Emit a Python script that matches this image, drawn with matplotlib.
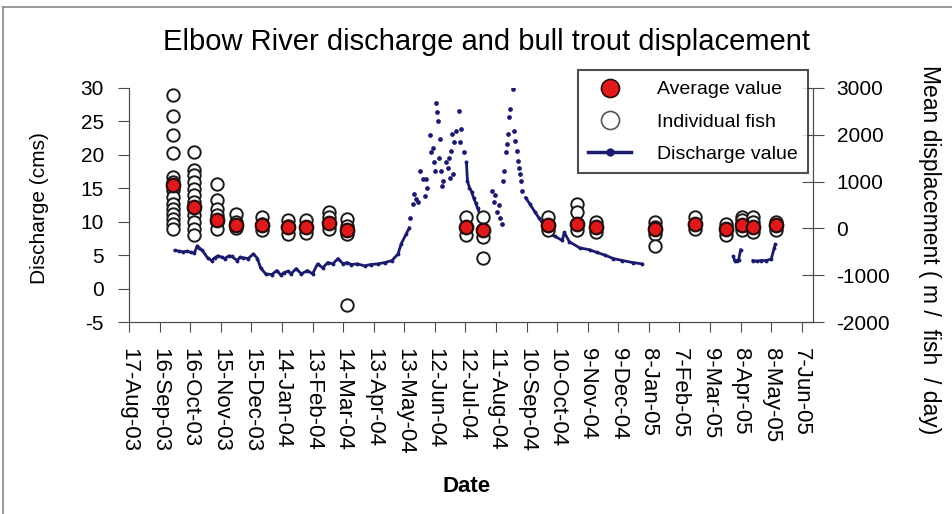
import matplotlib
matplotlib.use('Agg')
import matplotlib.pyplot as plt
from matplotlib.lines import Line2D
import pandas as pd

plt.rcParams['font.family'] = ['Liberation Sans', 'DejaVu Sans']
plt.rcParams['axes.unicode_minus'] = False

# sampling trips: mean and individual displacement (m / fish / day)
survey_dates = ['2003-09-29', '2003-10-20', '2003-11-11', '2003-11-30', '2003-12-25',
                '2004-01-20', '2004-02-07', '2004-02-29', '2004-03-18', '2004-07-13',
                '2004-07-29', '2004-10-01', '2004-10-29', '2004-11-17', '2005-01-14',
                '2005-02-22', '2005-03-25', '2005-04-09', '2005-04-20', '2005-05-13']
avg_disp = [919, 456, 171, 64, 64, 28, 20, 114, -28, 28,
            -43, 64, 85, 28, -6, 100, -6, 64, 28, 64]
fish_disp = [
    [2842, 2400, 1987, 1617, 1097, 990, 812, 669, 527, 420, 314, 207, 100, -6],
    [1630, 1239, 1132, 990, 848, 705, 562, 420, 278, 135, -6, -150],
    [954, 598, 420, 278, 135, -6],
    [314, 135, 0],
    [242, 100, -40],
    [171, 50, -114],
    [171, 30, -100],
    [349, 242, 100, -6],
    [207, 60, -114, -1645],
    [242, 28, -150],
    [242, -43, -185, -627],
    [242, 64, -43],
    [527, 349, 85, -43],
    [135, 28, -79],
    [135, 28, -120, -380],
    [242, 100, -6],
    [100, -6, -150],
    [242, 171, 64, -43],
    [242, 135, 28, -79],
    [135, 64, -43],
]

# discharge (cms), continuous stretches of daily record
q_fall03_dates = ['2003-10-01', '2003-10-05', '2003-10-09', '2003-10-13', '2003-10-17',
                  '2003-10-20', '2003-10-23', '2003-10-25', '2003-10-28', '2003-11-02',
                  '2003-11-06', '2003-11-09', '2003-11-12', '2003-11-16', '2003-11-19',
                  '2003-11-23', '2003-11-26', '2003-12-01', '2003-12-04', '2003-12-07',
                  '2003-12-12', '2003-12-17', '2003-12-21', '2003-12-24', '2003-12-29',
                  '2004-01-04', '2004-01-09', '2004-01-13', '2004-01-16', '2004-01-20',
                  '2004-01-23', '2004-01-28', '2004-02-02', '2004-02-08', '2004-02-13',
                  '2004-02-18', '2004-02-23', '2004-02-28', '2004-03-04', '2004-03-09',
                  '2004-03-14', '2004-03-18', '2004-03-22', '2004-03-28', '2004-04-04',
                  '2004-04-10', '2004-04-17', '2004-04-24', '2004-05-01', '2004-05-07',
                  '2004-05-10', '2004-05-15', '2004-05-18']
q_fall03_cms = [5.7, 5.6, 5.5, 5.6, 5.4, 5.3, 6.4, 6.0, 5.7, 4.6,
                4.2, 4.6, 4.9, 4.7, 4.5, 4.9, 4.8, 4.2, 4.7, 4.6,
                4.5, 5.2, 4.5, 3.1, 2.2, 2.1, 2.7, 2.0, 2.4, 2.6,
                2.2, 3.0, 2.2, 2.7, 2.2, 3.7, 3.1, 3.9, 3.7, 4.5,
                3.7, 3.9, 3.6, 3.7, 3.4, 3.6, 3.7, 3.9, 4.2, 5.2,
                6.7, 8.2, 9.1]

q_jul04_dates = ['2004-07-13', '2004-07-14', '2004-07-16', '2004-07-18', '2004-07-20',
                 '2004-07-22', '2004-07-24', '2004-07-26']
q_jul04_cms = [18.9, 16.1, 15.1, 14.5, 13.6, 12.8, 12.0, 11.2]

q_fall04_dates = ['2004-09-09', '2004-09-13', '2004-09-18', '2004-09-22', '2004-09-27',
                  '2004-10-02', '2004-10-08', '2004-10-15', '2004-10-17', '2004-10-22',
                  '2004-11-01', '2004-11-11', '2004-11-18', '2004-11-26', '2004-12-04',
                  '2004-12-13', '2004-12-23', '2005-01-01']
q_fall04_cms = [13.6, 12.7, 11.5, 10.6, 9.5, 8.2, 7.8, 7.2, 8.4, 7.0,
                6.1, 5.8, 5.4, 5.0, 4.5, 4.2, 3.9, 3.7]

q_apr05_dates = ['2005-04-01', '2005-04-02', '2005-04-04', '2005-04-06', '2005-04-08']
q_apr05_cms = [4.8, 4.2, 4.2, 4.3, 5.8]

q_may05_dates = ['2005-04-20', '2005-04-24', '2005-04-28', '2005-05-03', '2005-05-08',
                 '2005-05-11', '2005-05-12']
q_may05_cms = [4.2, 4.1, 4.2, 4.2, 4.4, 6.1, 6.6]

# scattered days during the freshet
q_peak_dates = ['2004-05-19', '2004-05-22', '2004-05-23', '2004-05-25', '2004-05-26',
                '2004-05-28', '2004-05-31', '2004-06-02', '2004-06-03', '2004-06-04',
                '2004-06-07', '2004-06-08', '2004-06-10', '2004-06-11', '2004-06-12',
                '2004-06-13', '2004-06-14', '2004-06-15', '2004-06-16', '2004-06-17',
                '2004-06-18', '2004-06-19', '2004-06-20', '2004-06-23', '2004-06-25',
                '2004-06-26', '2004-06-27', '2004-06-28', '2004-06-29', '2004-06-30',
                '2004-07-01', '2004-07-03', '2004-07-06', '2004-07-07', '2004-07-08',
                '2004-07-11',
                '2004-08-07', '2004-08-09', '2004-08-10', '2004-08-12', '2004-08-14',
                '2004-08-15', '2004-08-17', '2004-08-18', '2004-08-19', '2004-08-21',
                '2004-08-22', '2004-08-23', '2004-08-24', '2004-08-25', '2004-08-28',
                '2004-08-29', '2004-08-30', '2004-09-01', '2004-09-02', '2004-09-03',
                '2004-09-04', '2004-09-05', '2004-09-06']
q_peak_cms = [10.6, 12.7, 14.2, 13.4, 12.9, 17.6, 16.4, 13.9, 16.4, 15.1,
              22.9, 20.4, 21.1, 18.9, 17.6, 27.8, 26.4, 25.1, 19.6, 22.4,
              17.6, 15.4, 16.1, 18.9, 18.1, 19.6, 16.6, 20.6, 23.1, 17.1,
              21.9, 23.6, 26.6, 21.9, 23.9, 20.4,
              14.6, 13.0, 14.0, 11.5, 12.5, 10.5, 9.7, 16.1, 17.6, 20.4,
              21.6, 23.1, 25.6, 26.9, 29.9, 23.6, 22.1, 20.6, 19.1, 18.1,
              17.1, 16.1, 14.6]

tick_labels = ['17-Aug-03', '16-Sep-03', '16-Oct-03', '15-Nov-03', '15-Dec-03',
               '14-Jan-04', '13-Feb-04', '14-Mar-04', '13-Apr-04', '13-May-04',
               '12-Jun-04', '12-Jul-04', '11-Aug-04', '10-Sep-04', '10-Oct-04',
               '9-Nov-04', '9-Dec-04', '8-Jan-05', '7-Feb-05', '9-Mar-05',
               '8-Apr-05', '8-May-05', '7-Jun-05']

navy = '#1b1b6e'
axis_grey = '#4a4a4a'

fig = plt.figure(figsize=(9.53, 5.14), dpi=100)
ax = fig.add_axes([0.1354, 0.3735, 0.7177, 0.4553])
ax2 = ax.twinx()

for d, q in [(q_fall03_dates, q_fall03_cms), (q_jul04_dates, q_jul04_cms),
             (q_fall04_dates, q_fall04_cms), (q_apr05_dates, q_apr05_cms),
             (q_may05_dates, q_may05_cms)]:
    ax.plot(pd.to_datetime(d), q, color=navy, lw=2.0, marker='.', ms=3.5)
ax.plot(pd.to_datetime(q_peak_dates), q_peak_cms, ls='none', color=navy,
        marker='o', ms=2.4)

for d, vals in zip(survey_dates, fish_disp):
    ax2.scatter(pd.to_datetime([d] * len(vals)), vals, s=80, facecolor='white',
                edgecolor='#1a1a1a', linewidth=1.4, zorder=2)
ax2.scatter(pd.to_datetime(survey_dates), avg_disp, s=95, facecolor='#e01a1a',
            edgecolor='#2a0c0c', linewidth=1.6, zorder=3)

ax.set_xlim(pd.Timestamp('2003-08-17'), pd.Timestamp('2005-06-18'))
ax.set_ylim(-5, 30)
ax2.set_ylim(-2000, 3000)
ax.set_yticks(range(-5, 31, 5))
ax2.set_yticks(range(-2000, 3001, 1000))
ax.set_xticks(pd.to_datetime(tick_labels, format='%d-%b-%y'))
ax.set_xticklabels(tick_labels, rotation=-90, fontsize=16)

ax.tick_params(axis='y', direction='out', length=8, pad=10, labelsize=15, color=axis_grey)
ax.tick_params(axis='x', direction='out', length=7, pad=12, color=axis_grey)
ax2.tick_params(axis='y', direction='inout', length=16, pad=9, labelsize=15, color=axis_grey)
for a in (ax, ax2):
    a.spines['top'].set_visible(False)
    for s in ('left', 'right', 'bottom'):
        a.spines[s].set_color(axis_grey)

fig.text(487 / 953, 1 - 42 / 514, 'Elbow River discharge and bull trout displacement',
         ha='center', va='center', fontsize=21)
fig.text(40 / 953, 1 - 208 / 514, 'Discharge (cms)', rotation=90,
         ha='center', va='center', fontsize=15)
fig.text(930 / 953, 1 - 250 / 514, 'Mean displacement ( m /  fish  / day)', rotation=-90,
         ha='center', va='center', fontsize=16.5)
fig.text(467 / 953, 1 - 487 / 514, 'Date', ha='center', va='center',
         fontsize=16, fontweight='bold')

handles = [
    Line2D([], [], ls='none', marker='o', ms=13, mfc='#e01a1a', mec='#2a0c0c', mew=1.2),
    Line2D([], [], ls='none', marker='o', ms=13, mfc='white', mec='#555555', mew=1.2),
    Line2D([], [], color=navy, lw=2.5, marker='o', ms=5),
]
leg = fig.legend(handles, ['Average value', 'Individual fish', 'Discharge value'],
                 loc='upper right', bbox_to_anchor=(808 / 953, 1 - 70 / 514),
                 borderaxespad=0, fontsize=14, frameon=True, fancybox=False,
                 handlelength=2.2, borderpad=0.55, labelspacing=0.75, handletextpad=1.3)
leg.get_frame().set_edgecolor('#222222')
leg.get_frame().set_linewidth(1.5)

# outer frame
fig.add_artist(Line2D([3 / 953, 1], [1 - 7 / 514, 1 - 7 / 514], color='#888888', lw=1.2))
fig.add_artist(Line2D([3 / 953, 3 / 953], [0, 1 - 7 / 514], color='#888888', lw=1.2))

fig.savefig('out.png', dpi=100)
